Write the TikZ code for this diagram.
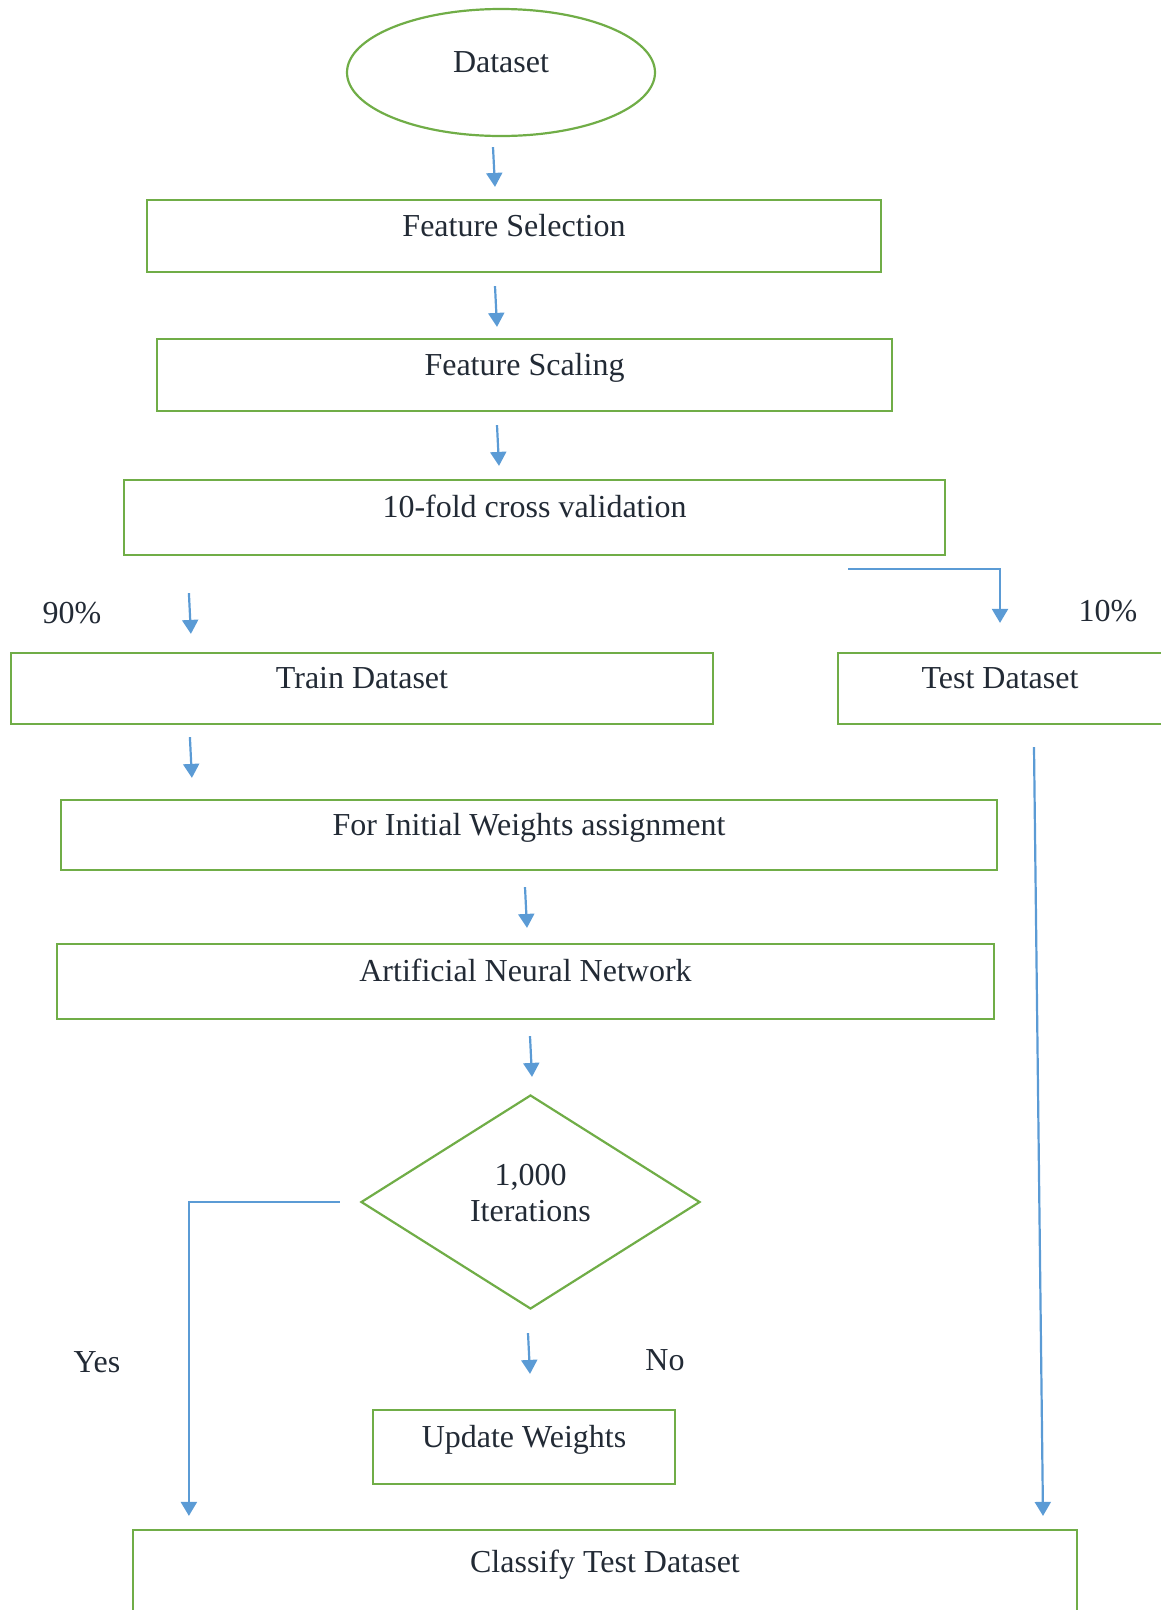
\documentclass[tikz,border=0pt]{standalone}
\usepackage{fontspec}
\setmainfont{Liberation Serif}
\usepackage{xcolor}
\usetikzlibrary{shapes.geometric, arrows.meta, positioning}
\definecolor{boxgreen}{HTML}{70AD47}
\definecolor{flowblue}{HTML}{5B9BD5}
\definecolor{textdark}{HTML}{222A35}

\begin{document}
\begin{tikzpicture}[
  x=1pt, y=-1pt,
  base/.style={draw=boxgreen, line width=2.2pt, inner sep=0pt, text=textdark,
               font=\fontsize{32}{36}\selectfont, text height=20pt, text depth=20pt},
  box/.style={base, rectangle},
  oval/.style={base, ellipse},
  decision/.style={base, diamond, aspect=1.58, align=center,
                   text height=56pt, text depth=18pt},
  lbl/.style={inner sep=0pt, text=textdark, font=\fontsize{32}{36}\selectfont},
  arrow/.style={draw=flowblue, line width=2.2pt, -{Triangle[length=14pt, width=16pt]}}
]
\useasboundingbox (0,0) rectangle (1161,1610);

% main column
\node[oval, minimum width=308pt, minimum height=127pt] (data) at (501,72.5) {Dataset};
\node[box, minimum width=734pt, minimum height=72pt] (fsel) at (514,236) {Feature Selection};
\node[box, minimum width=735pt, minimum height=72pt] (fscale) at (524.5,375) {Feature Scaling};
\node[box, minimum width=821pt, minimum height=75pt] (cv) at (534.5,517.5) {10-fold cross validation};
\node[box, minimum width=702pt, minimum height=71pt] (train) at (362,688.5) {Train Dataset};
\node[box, minimum width=324pt, minimum height=71pt] (test) at (1000,688.5) {Test Dataset};
\node[box, minimum width=936pt, minimum height=70pt] (init) at (529,835) {For Initial Weights assignment};
\node[box, minimum width=937pt, minimum height=75pt] (ann) at (525.5,981.5) {Artificial Neural Network};
\node[decision, minimum width=339pt, minimum height=214pt] (iter) at (530.5,1202) {1,000\\Iterations};
\node[box, minimum width=302pt, minimum height=74pt] (upd) at (524,1447) {Update Weights};
\node[box, minimum width=944pt, minimum height=84pt] (cls) at (605,1572) {Classify Test Dataset};

% labels
\node[lbl] (p90) at (72,613) {90\%};
\node[lbl] (p10) at (1108,611) {10\%};
\node[lbl] (yes) at (97,1362) {Yes};
\node[lbl] (no) at (665,1360) {No};

% arrows
\draw[arrow] ([xshift=-8pt,yshift=-10pt]data.south) -- ([xshift=-19pt,yshift=12pt]fsel.north);
\draw[arrow] ([xshift=-19pt,yshift=-13pt]fsel.south) -- ([xshift=-27.5pt,yshift=11pt]fscale.north);
\draw[arrow] ([xshift=-27.5pt,yshift=-13pt]fscale.south) -- ([xshift=-35.5pt,yshift=13pt]cv.north);
\draw[arrow] ([xshift=66pt,yshift=-37pt]cv.south west) -- ([xshift=181pt,yshift=18pt]train.north west);
\draw[arrow] ([xshift=-98pt,yshift=-13pt]cv.south east) -| ([yshift=29pt]test.north);
\draw[arrow] ([xshift=180pt,yshift=-12pt]train.south west) -- ([xshift=132pt,yshift=21pt]init.north west);
\draw[arrow] ([xshift=-4pt,yshift=-16pt]init.south) -- ([xshift=1.5pt,yshift=15pt]ann.north);
\draw[arrow] ([xshift=4.5pt,yshift=-16pt]ann.south) -- ([xshift=1.5pt,yshift=17pt]iter.north);
\draw[arrow] ([xshift=-2.5pt,yshift=-23pt]iter.south) -- ([xshift=6pt,yshift=35pt]upd.north);
\draw[arrow] ([xshift=-20pt]iter.west) -| ([xshift=57pt,yshift=13pt]cls.north west);
\draw[arrow] ([xshift=34pt,yshift=-22pt]test.south) -- ([xshift=438pt,yshift=13pt]cls.north);

\end{tikzpicture}
\end{document}
